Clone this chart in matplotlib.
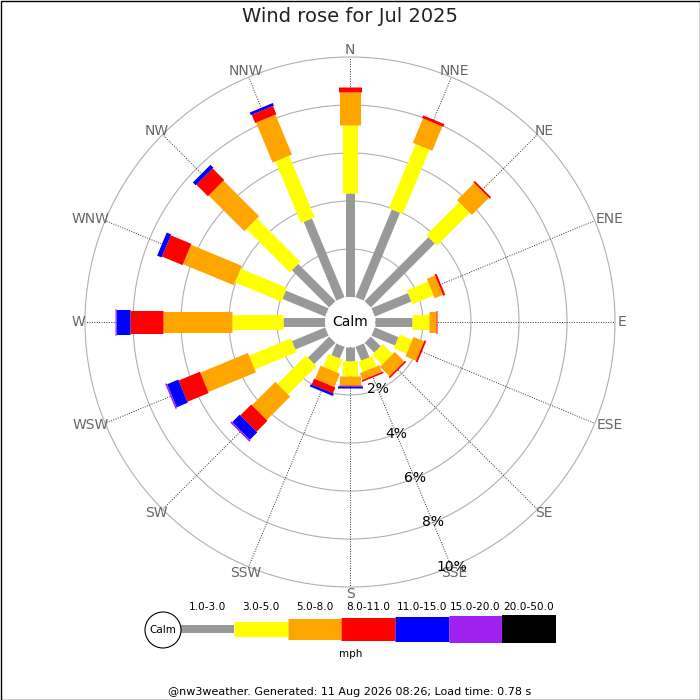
import numpy as np
import matplotlib
matplotlib.use("Agg")
import matplotlib.pyplot as plt
from matplotlib.patches import Circle, Rectangle

# direction names, clockwise from north
directions = ['N', 'NNE', 'NE', 'ENE', 'E', 'ESE', 'SE', 'SSE',
              'S', 'SSW', 'SW', 'WSW', 'W', 'WNW', 'NW', 'NNW']

# speed bins (mph) and their colours
speed_bins = ['1.0-3.0', '3.0-5.0', '5.0-8.0', '8.0-11.0',
              '11.0-15.0', '15.0-20.0', '20.0-50.0']
bin_colors = ['#999999', '#ffff00', '#ffa500', '#ff0000',
              '#0000ff', '#a020f0', '#000000']

# frequency (%) per direction for each speed bin
pct_1_3 = [4.32, 3.96, 3.77, 1.65, 1.53, 1.07, 0.58, 0.63,
           0.60, 0.53, 1.25, 1.50, 1.74, 1.93, 2.20, 3.55]
pct_3_5 = [2.85, 2.90, 1.93, 0.95, 0.73, 0.57, 0.58, 0.46,
           0.60, 0.58, 1.67, 1.88, 2.15, 2.09, 2.55, 2.78]
pct_5_8 = [1.36, 1.10, 1.01, 0.37, 0.27, 0.48, 0.56, 0.30,
           0.37, 0.60, 1.38, 2.15, 2.85, 2.29, 2.10, 1.80]
pct_8_11 = [0.21, 0.12, 0.08, 0.09, 0.07, 0.08, 0.07, 0.07,
            0.06, 0.27, 0.64, 0.96, 1.39, 0.93, 0.68, 0.37]
pct_11_15 = [0, 0, 0, 0, 0, 0, 0, 0,
             0.07, 0.10, 0.44, 0.50, 0.58, 0.20, 0.17, 0.12]
pct_15_20 = [0, 0, 0, 0, 0, 0, 0, 0,
             0, 0, 0.07, 0.07, 0.04, 0, 0, 0]
pct_20_50 = [0] * 16

ring_pcts = [2, 4, 6, 8, 10]

series = [pct_1_3, pct_3_5, pct_5_8, pct_8_11, pct_11_15, pct_15_20, pct_20_50]
bar_px = [9, 15, 21, 23, 25, 27, 28]  # bar thickness in pixels

# geometry in pixel units (figure is 700x700)
cx, cy = 350, 322
r_calm = 25
px_per_pct = 24
PT = 0.72  # points per pixel at dpi 100


def rad(p):
    return r_calm + px_per_pct * p


def pos(bearing, r):
    a = np.deg2rad(bearing)
    return cx + r * np.sin(a), cy - r * np.cos(a)


fig = plt.figure(figsize=(7, 7), dpi=100)
ax = fig.add_axes([0, 0, 1, 1])
ax.set_xlim(0, 700)
ax.set_ylim(700, 0)
ax.set_aspect('equal')
ax.axis('off')

# grid circles
for p in ring_pcts:
    ax.add_patch(Circle((cx, cy), rad(p), fill=False, ec='#b0b0b0', lw=0.8, zorder=1))

# direction spokes and labels
bearings = np.arange(16) * 22.5
for d, b in zip(directions, bearings):
    x1, y1 = pos(b, rad(10))
    ax.plot([cx, x1], [cy, y1], ls=(0, (1, 1.5)), color='#333333', lw=0.7, zorder=1)
    a = np.deg2rad(b)
    w = 10 * len(d)
    lx = cx + (267 + w / 2 * abs(np.sin(a))) * np.sin(a)
    ly = cy - (267 + 5 * abs(np.cos(a))) * np.cos(a)
    ax.text(lx, ly, d, ha='center', va='center', fontsize=10, color='#666666')

# stacked bars
for i, b in enumerate(bearings):
    start = 0.0
    for vals, col, w in zip(series, bin_colors, bar_px):
        v = vals[i]
        if v <= 0:
            continue
        x0, y0 = pos(b, rad(start))
        x1, y1 = pos(b, rad(start + v))
        ax.plot([x0, x1], [y0, y1], color=col, lw=w * PT,
                solid_capstyle='butt', zorder=3)
        start += v

# calm circle
ax.add_patch(Circle((cx, cy), r_calm, fc='white', ec='none', zorder=4))
ax.text(cx, cy, 'Calm', ha='center', va='center', fontsize=10, color='black', zorder=5)

# percentage labels along SSE
for p in ring_pcts:
    x, y = pos(157.5, rad(p))
    ax.text(x, y, f'{p}%', ha='center', va='center', fontsize=10, color='black', zorder=5)

# title
ax.text(350, 17, 'Wind rose for Jul 2025', ha='center', va='center',
        fontsize=14, color='#222222')

# legend
ly = 629
seg_x = [180.5 + 53.6 * k for k in range(8)]
for k, (lab, col, w) in enumerate(zip(speed_bins, bin_colors, bar_px)):
    ax.plot([seg_x[k], seg_x[k + 1]], [ly, ly], color=col, lw=(w - 1 if k == 0 else w) * PT,
            solid_capstyle='butt', zorder=3)
    ax.text((seg_x[k] + seg_x[k + 1]) / 2, 607, lab, ha='center', va='center',
            fontsize=7.6, color='black')
ax.add_patch(Circle((163, 630), 18, fc='white', ec='black', lw=0.8, zorder=4))
ax.text(163, 630, 'Calm', ha='center', va='center', fontsize=7.5, zorder=5)
ax.text(351, 654, 'mph', ha='center', va='center', fontsize=7.5)

# footer
ax.text(350, 692, '@nw3weather. Generated: 11 Aug 2026 08:26; Load time: 0.78 s',
        ha='center', va='center', fontsize=8, color='black')

# outer border
ax.add_patch(Rectangle((0.5, 0.5), 699, 699, fill=False, ec='black', lw=1, zorder=6))

fig.savefig('out.png', dpi=100)
